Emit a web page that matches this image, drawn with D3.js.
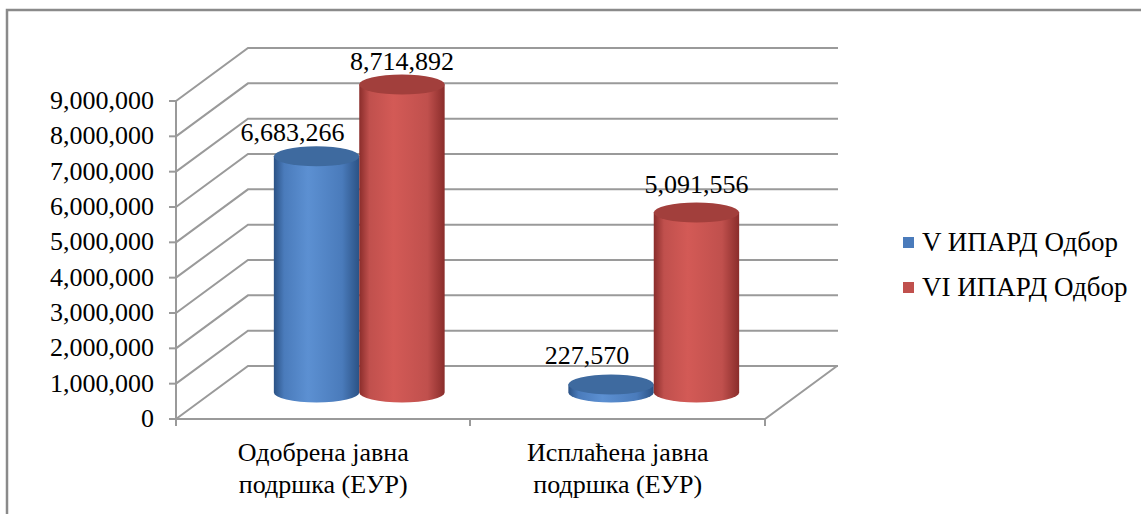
<!DOCTYPE html>
<html>
  <head>
    <meta charset="utf-8">
    <title>ИПАРД Одбор</title>
    <script src="https://cdn.jsdelivr.net/npm/d3@7/dist/d3.min.js"></script>
    <style>
      body { margin: 0; background: #fff; }
    </style>
  </head>
  <body>
    <div id="chart"></div>

    <script>
      // data
      var categories = [["Одобрена јавна", "подршка (ЕУР)"], ["Исплаћена јавна", "подршка (ЕУР)"]];
      var seriesNames = ["V ИПАРД Одбор", "VI ИПАРД Одбор"];
      var seriesValues = [
        [6683266, 227570],
        [8714892, 5091556]
      ];
      var yTicks = [0, 1000000, 2000000, 3000000, 4000000, 5000000, 6000000, 7000000, 8000000, 9000000];

      var width = 1141, height = 514;
      var depth = { dx: 72, dy: -53 };
      var serif = "\"Liberation Serif\"";
      var colours = [
        { dark: "#2b5285", light: "#5c90d2", mid: "#4a7bbb", top: "#3e6a9f" },
        { dark: "#8a2d2b", light: "#d35a56", mid: "#c0504d", top: "#a23f3c" }
      ];

      var svg = d3.select("#chart")
        .append("svg")
          .attr("width", width)
          .attr("height", height);

      // outer frame (only left/top edges visible)
      svg.append("rect")
        .attr("x", 7)
        .attr("y", 10)
        .attr("width", width + 20)
        .attr("height", height + 20)
        .style("fill", "none")
        .style("stroke", "#8a8a8a")
        .style("stroke-width", 2.5);

      // scales
      var y = d3.scaleLinear()
        .domain([0, 9000000])
        .range([419, 101]);
      var x0 = d3.scaleBand()
        .domain(d3.range(categories.length))
        .range([176, 765])
        .paddingInner(0.42)
        .paddingOuter(0.21);
      var x1 = d3.scaleBand()
        .domain(d3.range(seriesNames.length))
        .range([0, x0.bandwidth()]);

      var fmt = d3.format(",");
      var gridColour = "#9a9a9a";

      function label(sel) {
        return sel.append("text")
          .style("font-family", serif)
          .style("font-size", "26px")
          .style("fill", "#000");
      }

      // walls and gridlines
      var grid = svg.append("g");
      yTicks.forEach(function(t) {
        var yy = y(t);
        grid.append("path")
          .attr("d", "M176," + yy + "L" + (176 + depth.dx) + "," + (yy + depth.dy) + "L838," + (yy + depth.dy))
          .style("fill", "none")
          .style("stroke", gridColour)
          .style("stroke-width", 2);
      });
      // floor
      grid.append("path")
        .attr("d", "M176," + y(0) + "L765," + y(0) + "L" + (765 + depth.dx) + "," + (y(0) + depth.dy))
        .style("fill", "none")
        .style("stroke", gridColour)
        .style("stroke-width", 2);

      // y axis
      var yAxis = svg.append("g");
      yAxis.append("line")
        .attr("x1", 176).attr("x2", 176)
        .attr("y1", y(9000000)).attr("y2", y(0))
        .style("stroke", gridColour)
        .style("stroke-width", 2);
      yTicks.forEach(function(t) {
        yAxis.append("line")
          .attr("x1", 169).attr("x2", 176)
          .attr("y1", y(t)).attr("y2", y(t))
          .style("stroke", gridColour)
          .style("stroke-width", 2);
        label(yAxis)
          .attr("x", 154)
          .attr("y", y(t) + 8)
          .attr("text-anchor", "end")
          .text(fmt(t));
      });

      // category axis ticks and labels
      [176, 470, 765].forEach(function(xx) {
        svg.append("line")
          .attr("x1", xx).attr("x2", xx)
          .attr("y1", y(0)).attr("y2", y(0) + 7)
          .style("stroke", gridColour)
          .style("stroke-width", 2);
      });
      categories.forEach(function(c, i) {
        var t = label(svg)
          .attr("text-anchor", "middle");
        c.forEach(function(line, j) {
          t.append("tspan")
            .attr("x", x0(i) + x0.bandwidth() / 2)
            .attr("y", 461 + j * 32)
            .text(line);
        });
      });

      // gradients for cylinders
      var defs = svg.append("defs");
      colours.forEach(function(c, s) {
        var g = defs.append("linearGradient")
          .attr("id", "cyl" + s)
          .attr("x1", "0%").attr("x2", "100%")
          .attr("y1", "0%").attr("y2", "0%");
        g.append("stop").attr("offset", "0%").attr("stop-color", c.dark);
        g.append("stop").attr("offset", "12%").attr("stop-color", c.mid);
        g.append("stop").attr("offset", "40%").attr("stop-color", c.light);
        g.append("stop").attr("offset", "80%").attr("stop-color", c.mid);
        g.append("stop").attr("offset", "100%").attr("stop-color", c.dark);
      });

      // cylinders
      var rx = x1.bandwidth() / 2, ry = 10;
      var bars = svg.append("g");
      var labels = svg.append("g");
      var labelShift = [-24, 0];
      var labelLift = [0, 5];
      categories.forEach(function(c, i) {
        seriesValues.forEach(function(vals, s) {
          var v = vals[i];
          var cx = x0(i) + x1(s) + rx + depth.dx / 2;
          var yb = y(0) + depth.dy / 2;
          var yt = y(v) + depth.dy / 2;
          bars.append("path")
            .attr("d", "M" + (cx - rx) + "," + yt +
              "L" + (cx - rx) + "," + yb +
              "A" + rx + "," + ry + " 0 0 0 " + (cx + rx) + "," + yb +
              "L" + (cx + rx) + "," + yt + "Z")
            .style("fill", "url(#cyl" + s + ")");
          bars.append("ellipse")
            .attr("cx", cx)
            .attr("cy", yt)
            .attr("rx", rx)
            .attr("ry", ry)
            .style("fill", colours[s].top);
          label(labels)
            .attr("x", cx + labelShift[s])
            .attr("y", yt - ry - 5 - labelLift[i])
            .attr("text-anchor", "middle")
            .text(fmt(v));
        });
      });

      // legend
      var legend = svg.append("g");
      seriesNames.forEach(function(name, s) {
        legend.append("rect")
          .attr("x", 903)
          .attr("y", 237 + s * 45)
          .attr("width", 11)
          .attr("height", 11)
          .style("fill", colours[s].mid);
        label(legend)
          .attr("x", 922)
          .attr("y", 251 + s * 45)
          .style("font-size", "27px")
          .text(name);
      });
    </script>
  </body>
</html>
